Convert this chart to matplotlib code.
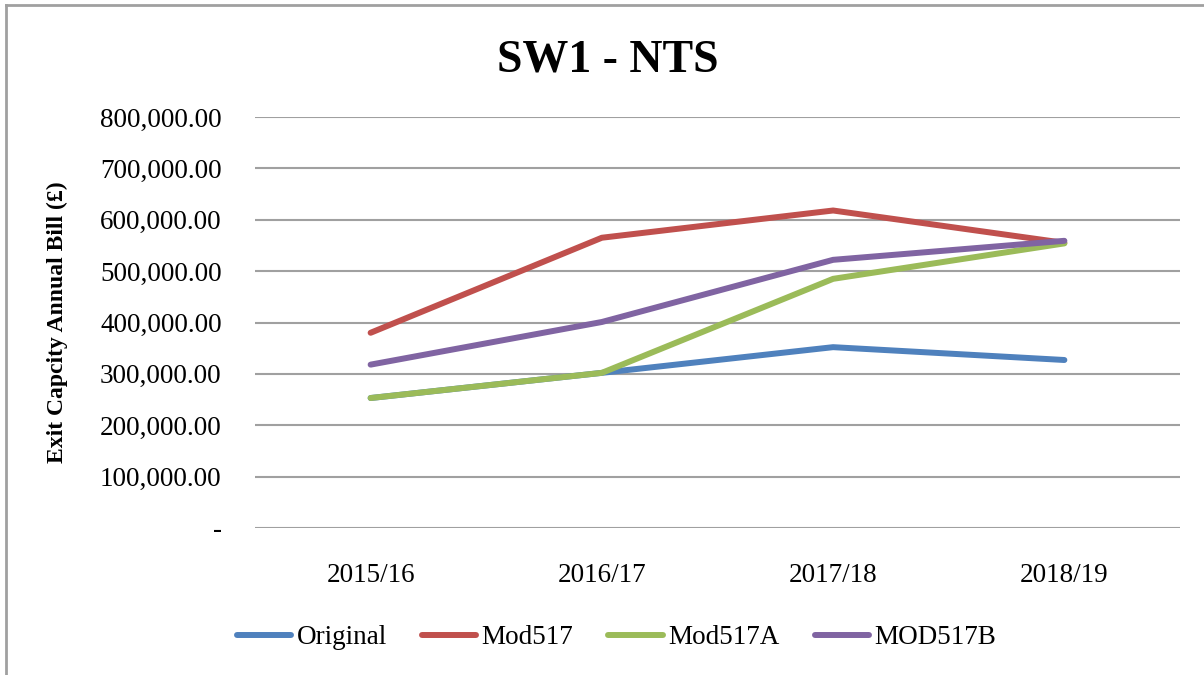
import matplotlib.pyplot as plt
from matplotlib.lines import Line2D
from matplotlib.ticker import FuncFormatter

# data
years = ["2015/16", "2016/17", "2017/18", "2018/19"]
original = [253000, 302000, 352000, 327000]
mod517 = [380000, 565000, 618000, 555000]
mod517a = [253000, 302000, 485000, 554000]
mod517b = [318000, 401000, 522000, 559000]

series = [
    ("Original", original, "#4F81BD"),
    ("Mod517", mod517, "#C0504D"),
    ("Mod517A", mod517a, "#9BBB59"),
    ("MOD517B", mod517b, "#8064A2"),
]

plt.rcParams['font.family'] = ['Liberation Serif', 'DejaVu Serif']

fig = plt.figure(figsize=(12.04, 6.75), dpi=100)
ax = fig.add_axes([255 / 1204, 1 - 528 / 675, (1180 - 255) / 1204, (528 - 117) / 675])

x = range(len(years))
for name, vals, col in series:
    ax.plot(x, vals, color=col, linewidth=4.3, label=name, solid_capstyle='round', zorder=3)

ax.set_xlim(-0.5, len(years) - 0.5)
ax.set_ylim(0, 800000)
ax.set_yticks(range(0, 800001, 100000))
ax.yaxis.set_major_formatter(FuncFormatter(lambda v, p: "-" if v == 0 else f"{v:,.2f}"))
ax.set_xticks(list(x))
ax.set_xticklabels(years)
ax.grid(axis='y', color='#A0A0A0', linewidth=1.5, zorder=1)
for s in ax.spines.values():
    s.set_visible(False)
ax.tick_params(axis='both', length=0, labelsize=19.5, colors='black')
ax.tick_params(axis='y', pad=24)
ax.tick_params(axis='x', pad=25)

ax.set_ylabel("Exit Capcity Annual Bill (£)", fontsize=17, fontweight='bold', labelpad=23)
fig.text(0.5046, 1 - 60 / 675, "SW1 - NTS", ha='center', va='center', fontsize=33, fontweight='bold')

handles = [Line2D([0], [0], color=c, linewidth=4.3, solid_capstyle='round') for _, _, c in series]
fig.legend(handles, [n for n, _, _ in series], loc='center', bbox_to_anchor=(0.512, 1 - 638 / 675),
           ncol=4, frameon=False, fontsize=19.5, handlelength=2.0, handletextpad=0.2, columnspacing=1.3)

# outer chart border
fig.add_artist(Line2D([6 / 1204, 1], [1 - 5 / 675, 1 - 5 / 675], color='#A0A0A0', linewidth=2, transform=fig.transFigure))
fig.add_artist(Line2D([6 / 1204, 6 / 1204], [0, 1 - 5 / 675], color='#A0A0A0', linewidth=2, transform=fig.transFigure))

fig.savefig("out.png", dpi=100)
